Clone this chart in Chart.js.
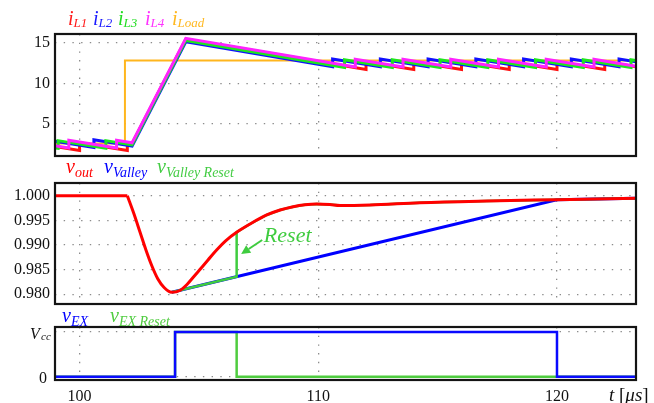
<!DOCTYPE html>
<html>
<head>
<meta charset="utf-8">
<script src="https://cdn.jsdelivr.net/npm/chart.js@4.4.1/dist/chart.umd.min.js"></script>
<style>
  html, body { margin: 0; padding: 0; background: #fff; }
  #wrap { position: relative; width: 654px; height: 403px; overflow: hidden;
          font-family: "Liberation Serif", "Times New Roman", serif; }
  #wrap canvas { position: absolute; left: 0; top: 0; }
  .lbl { position: absolute; font-style: italic; font-size: 20px; line-height: 1; white-space: nowrap; }
  .lbl .s { font-size: 14px; position: relative; top: 3.5px; }
  .lbl.top .s { font-size: 13px; top: 2px; }
  .axis-t { position: absolute; left: 609px; top: 385px; font-size: 19px; line-height: 1; white-space: nowrap; color: #111; }
</style>
</head>
<body>
<div id="wrap">
  <canvas id="cCur" width="654" height="403"></canvas>
  <canvas id="cVolt" width="654" height="403"></canvas>
  <canvas id="cEx" width="654" height="403"></canvas>

  <div class="lbl top" style="left:68px;top:8px;color:#ff1a1a">i<span class="s">L1</span></div>
  <div class="lbl top" style="left:93px;top:8px;color:#1a1aff">i<span class="s">L2</span></div>
  <div class="lbl top" style="left:118px;top:8px;color:#22dd22">i<span class="s">L3</span></div>
  <div class="lbl top" style="left:145px;top:8px;color:#ff33ff">i<span class="s">L4</span></div>
  <div class="lbl top" style="left:172px;top:8px;color:#ffb820">i<span class="s">Load</span></div>

  <div class="lbl" style="left:66px;top:156px;color:#ff0000">v<span class="s">out</span></div>
  <div class="lbl" style="left:104px;top:156px;color:#0000ff">v<span class="s">Valley</span></div>
  <div class="lbl" style="left:157px;top:156px;color:#44cc44">v<span class="s">Valley Reset</span></div>

  <div class="lbl" style="left:62px;top:305px;color:#0000ff">v<span class="s">EX</span></div>
  <div class="lbl" style="left:110px;top:305px;color:#4fcc3f">v<span class="s">EX Reset</span></div>

  <div class="axis-t"><i>t</i> [<i>μs</i>]</div>
</div>

<script>
// ---- time axis (µs) ----
const tRange = [98.97, 123.31];
const tTicks = [100, 110, 120];

// ---- phase inductor currents and load current (A) ----
const tL1 = [98.97, 100, 100, 102, 102, 102.2, 104.45, 112, 112, 114, 114, 116, 116, 118, 118, 120, 120, 122, 122, 123.31];
const iL1 = [2.24, 1.75, 2.7, 1.75, 2.7, 2.6, 15.44, 11.7, 12.65, 11.7, 12.65, 11.7, 12.65, 11.7, 12.65, 11.7, 12.65, 11.7, 12.65, 12.03];

const tL2 = [98.97, 100.6, 100.6, 102.2, 104.45, 110.6, 110.6, 112.6, 112.6, 114.6, 114.6, 116.6, 116.6, 118.6, 118.6, 120.6, 120.6, 122.6, 122.6, 123.31];
const iL2 = [2.87, 2.10, 3.05, 2.29, 15.12, 12.05, 13.0, 12.05, 13.0, 12.05, 13.0, 12.05, 13.0, 12.05, 13.0, 12.05, 13.0, 12.05, 13.0, 12.66];

const tL3 = [98.97, 99.1, 99.1, 101.1, 101.1, 102.2, 104.45, 111.1, 111.1, 113.1, 113.1, 115.1, 115.1, 117.1, 117.1, 119.1, 119.1, 121.1, 121.1, 123.1, 123.1, 123.31];
const iL3 = [2.06, 2.0, 2.95, 2.0, 2.95, 2.43, 15.28, 11.95, 12.9, 11.95, 12.9, 11.95, 12.9, 11.95, 12.9, 11.95, 12.9, 11.95, 12.9, 11.95, 12.9, 12.8];

const tL4 = [98.97, 99.55, 99.55, 101.55, 101.55, 102.2, 104.45, 111.55, 111.55, 113.55, 113.55, 115.55, 115.55, 117.55, 117.55, 119.55, 119.55, 121.55, 121.55, 123.31];
const iL4 = [2.33, 2.05, 3.0, 2.05, 3.0, 2.69, 15.53, 12.0, 12.95, 12.0, 12.95, 12.0, 12.95, 12.0, 12.95, 12.0, 12.95, 12.0, 12.95, 12.11];

const tLoad = [98.97, 101.9, 101.9, 123.31];
const iLoad = [2.6, 2.6, 12.8, 12.8];

const curTicks = [5, 10, 15];

// ---- output voltage, valley reference, reset reference (V) ----
// the first two samples are the flat pre-step level, the rest is the transient
const tOut = [98.97, 102.0, 102.28, 102.53, 102.78, 103.03, 103.28, 103.54, 103.86, 104.2, 104.5, 104.79, 105.04, 105.38, 105.74, 106.13, 106.58, 107.14, 107.84, 108.4, 108.95, 109.44, 109.93, 110.49, 110.91, 112.17, 114.26, 117.06, 119.99, 123.31];
const vOut = [1.000, 1.000, 0.99629, 0.99264, 0.98899, 0.98574, 0.9831, 0.98138, 0.9804, 0.98077, 0.98199, 0.98361, 0.98503, 0.98696, 0.98899, 0.99091, 0.99258, 0.99426, 0.99609, 0.9971, 0.99777, 0.99816, 0.99832, 0.9982, 0.99801, 0.99812, 0.99858, 0.99893, 0.99919, 0.99948];

const tValley = [103.86, 119.99, 123.31];
const vValley = [0.9804, 0.99919, 0.99948];

const tReset = [103.86, 106.58, 106.58, 107.14, 107.84, 108.4, 108.95, 109.44, 109.93, 110.49, 110.91, 112.17, 114.26, 117.06, 119.99, 123.31];
const vReset = [0.9804, 0.98357, 0.99258, 0.99426, 0.99609, 0.9971, 0.99777, 0.99816, 0.99832, 0.9982, 0.99801, 0.99812, 0.99858, 0.99893, 0.99919, 0.99948];

const voltTicks = [0.980, 0.985, 0.990, 0.995, 1.000];

// reset annotation: label anchor, arrow tail and arrow tip (t, v)
const resetLabel = [107.72, 0.99061];
const resetArrow = [107.65, 0.99101, 106.77, 0.98817];

// ---- switch-enable signals (0 / Vcc) ----
const tEX = [98.97, 104.0, 104.0, 120.0, 120.0, 123.31];
const vEX = [0, 0, 1, 1, 0, 0];
const tEXR = [98.97, 104.0, 104.0, 106.58, 106.58, 123.31];
const vEXR = [0, 0, 1, 1, 0, 0];
const exTicks = [0, 1];

// ---------------------------------------------------------------
const pts = (ts, vs) => ts.map((t, i) => ({ x: t, y: vs[i] }));
const SERIF = '"Liberation Serif", "Times New Roman", serif';
const GRID = { color: '#8c8c8c', lineWidth: 1.3, drawTicks: false };
const DOTS = { display: false, dash: [1.4, 7.3] };

const framePlugin = {
  id: 'frame',
  afterDraw(chart) {
    const { ctx, chartArea: a } = chart;
    ctx.save();
    ctx.strokeStyle = '#141414';
    ctx.lineWidth = 2.2;
    ctx.strokeRect(a.left, a.top, a.right - a.left, a.bottom - a.top);
    ctx.restore();
  }
};

function timeScale(showLabels) {
  return {
    type: 'linear', min: tRange[0], max: tRange[1],
    afterBuildTicks: s => { s.ticks = tTicks.map(v => ({ value: v })); },
    afterFit: s => { s.height = showLabels ? 23 : 0; },
    grid: GRID, border: DOTS,
    ticks: {
      display: showLabels, autoSkip: false, maxRotation: 0, padding: 7,
      color: '#111', font: { family: SERIF, size: 16 },
      callback: v => String(v)
    }
  };
}

function valueScale(min, max, tickVals, fmt, showLabels) {
  return {
    type: 'linear', min, max,
    afterBuildTicks: s => { s.ticks = tickVals.map(v => ({ value: v })); },
    afterFit: s => { s.width = 55; },
    grid: GRID, border: DOTS,
    ticks: {
      display: showLabels, padding: 5, color: '#111',
      font: { family: SERIF, size: 16 }, callback: fmt
    }
  };
}

const lineDs = (label, data, color, width, extra) => Object.assign({
  label, data, borderColor: color, backgroundColor: color,
  borderWidth: width, pointRadius: 0, tension: 0, fill: false,
  borderJoinStyle: 'miter'
}, extra || {});

const common = {
  responsive: false, animation: false, events: [],
  plugins: { legend: { display: false }, tooltip: { enabled: false } }
};

// ---- panel 1: inductor currents ----
new Chart(document.getElementById('cCur'), {
  type: 'line',
  data: {
    datasets: [
      lineDs('iL4', pts(tL4, iL4), '#ff22ff', 3),
      lineDs('iL3', pts(tL3, iL3), '#1ee61e', 3),
      lineDs('iL2', pts(tL2, iL2), '#1010ff', 3),
      lineDs('iL1', pts(tL1, iL1), '#ff1010', 3),
      lineDs('iLoad', pts(tLoad, iLoad), '#ffb61e', 2)
    ]
  },
  options: Object.assign({}, common, {
    layout: { padding: { top: 34, bottom: 247, left: 0, right: 18 } },
    scales: {
      x: timeScale(false),
      y: valueScale(1.06, 16.07, curTicks, v => String(v), true)
    }
  }),
  plugins: [framePlugin]
});

// ---- panel 2: output voltage with valley references ----
const resetPlugin = {
  id: 'resetNote',
  afterDatasetsDraw(chart) {
    const { ctx, scales: { x, y } } = chart;
    const green = '#3fcc3f';
    ctx.save();
    ctx.fillStyle = green;
    ctx.strokeStyle = green;
    ctx.font = 'italic 22px ' + SERIF;
    ctx.textBaseline = 'alphabetic';
    ctx.fillText('Reset', x.getPixelForValue(resetLabel[0]), y.getPixelForValue(resetLabel[1]));
    const x0 = x.getPixelForValue(resetArrow[0]), y0 = y.getPixelForValue(resetArrow[1]);
    const x1 = x.getPixelForValue(resetArrow[2]), y1 = y.getPixelForValue(resetArrow[3]);
    const ang = Math.atan2(y1 - y0, x1 - x0), head = 9, half = 4.5;
    const bx = x1 - head * Math.cos(ang), by = y1 - head * Math.sin(ang);
    ctx.lineWidth = 2;
    ctx.beginPath(); ctx.moveTo(x0, y0); ctx.lineTo(bx, by); ctx.stroke();
    ctx.beginPath();
    ctx.moveTo(x1, y1);
    ctx.lineTo(bx + half * Math.sin(ang), by - half * Math.cos(ang));
    ctx.lineTo(bx - half * Math.sin(ang), by + half * Math.cos(ang));
    ctx.closePath(); ctx.fill();
    ctx.restore();
  }
};

const outAll = pts(tOut, vOut);
new Chart(document.getElementById('cVolt'), {
  type: 'line',
  data: {
    datasets: [
      // flat level before the step, then the smooth transient from the knee on
      lineDs('vout', outAll.slice(0, 2), '#ff0000', 3),
      lineDs('vout', outAll.slice(1), '#ff0000', 3, { cubicInterpolationMode: 'monotone' }),
      lineDs('vValleyReset', pts(tReset, vReset), '#3fcc3f', 2.5),
      lineDs('vValley', pts(tValley, vValley), '#0000ff', 3)
    ]
  },
  options: Object.assign({}, common, {
    layout: { padding: { top: 183, bottom: 99, left: 0, right: 18 } },
    scales: {
      x: timeScale(false),
      y: valueScale(0.97803, 1.00258, voltTicks, v => v.toFixed(3), true)
    }
  }),
  plugins: [framePlugin, resetPlugin]
});

// ---- panel 3: switch-enable signals ----
const levelLabels = {
  id: 'levelLabels',
  afterDraw(chart) {
    const { ctx, scales: { y } } = chart;
    ctx.save();
    ctx.fillStyle = '#111';
    ctx.textBaseline = 'alphabetic';
    const yv = y.getPixelForValue(1), y0 = y.getPixelForValue(0);
    ctx.textAlign = 'left';
    ctx.font = 'italic 16px ' + SERIF;
    ctx.fillText('V', 30, yv + 7);
    ctx.font = 'italic 11px ' + SERIF;
    ctx.fillText('cc', 41, yv + 8);
    ctx.textAlign = 'right';
    ctx.font = '16px ' + SERIF;
    ctx.fillText('0', 47, y0 + 6.5);
    ctx.restore();
  }
};

new Chart(document.getElementById('cEx'), {
  type: 'line',
  data: {
    datasets: [
      lineDs('vEX', pts(tEX, vEX), '#0a0aff', 2.5),
      lineDs('vEXReset', pts(tEXR, vEXR), '#4fcc3f', 2.5)
    ]
  },
  options: Object.assign({}, common, {
    layout: { padding: { top: 327, bottom: 0, left: 0, right: 18 } },
    scales: {
      x: timeScale(true),
      y: valueScale(-0.074, 1.112, exTicks, () => '', false)
    }
  }),
  plugins: [framePlugin, levelLabels]
});
</script>
</body>
</html>
